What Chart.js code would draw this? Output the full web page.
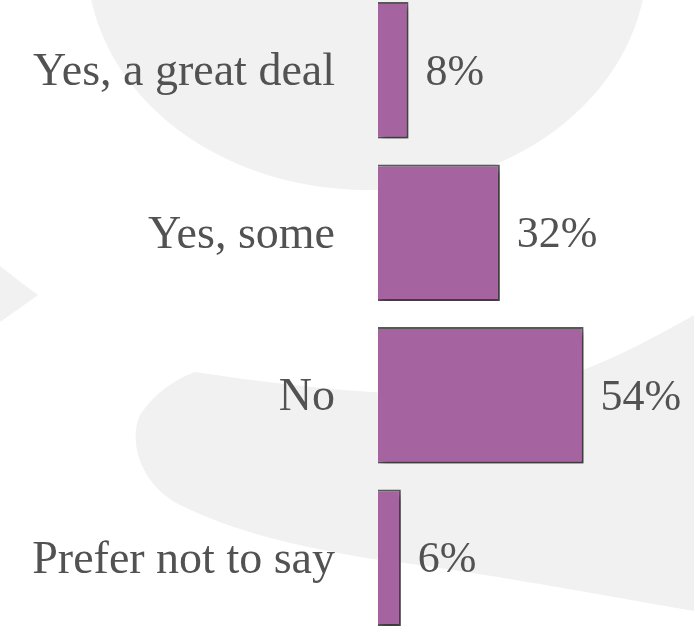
<!DOCTYPE html>
<html>
<head>
<meta charset="utf-8">
<script src="https://cdn.jsdelivr.net/npm/chart.js@4.4.1/dist/chart.umd.min.js"></script>
<style>
  html, body { margin: 0; padding: 0; background: #ffffff; overflow: hidden; }
  body { width: 694px; height: 627px; position: relative; }
  #wrap { position: absolute; left: 0; top: -11px; width: 694px; height: 650px; }
</style>
</head>
<body>
<div id="wrap"><canvas id="c"></canvas></div>
<script>
// ---- data ----
const categories = ["Yes, a great deal", "Yes, some", "No", "Prefer not to say"];
const values = [8, 32, 54, 6];
const valueSuffix = "%";
const xMax = 83;

const TEXT = "#525252";
const BAR = "#a5639f";
const BAR_BORDER = "#5a5a5a";
const BG_SHAPE = "#f1f1f1";
const TOP_OFFSET = 11;

const backgroundPlugin = {
  id: "bgShapes",
  beforeDraw(chart) {
    const ctx = chart.ctx;
    ctx.save();
    ctx.fillStyle = "#ffffff";
    ctx.fillRect(0, 0, chart.width, chart.height);
    ctx.translate(0, TOP_OFFSET);
    ctx.fillStyle = BG_SHAPE;
    // top ellipse
    ctx.beginPath();
    ctx.ellipse(367, -40, 280, 230, 0, 0, Math.PI * 2);
    ctx.fill();
    // left wedge
    ctx.beginPath();
    ctx.moveTo(0, 266);
    ctx.quadraticCurveTo(20, 282, 38, 295);
    ctx.quadraticCurveTo(20, 308, 0, 322);
    ctx.closePath();
    ctx.fill();
    // bottom band
    ctx.beginPath();
    ctx.moveTo(195, 372);
    ctx.bezierCurveTo(300, 388, 420, 400, 500, 392);
    ctx.bezierCurveTo(580, 380, 640, 345, 700, 312);
    ctx.lineTo(700, 612);
    ctx.bezierCurveTo(600, 595, 480, 572, 380, 560);
    ctx.bezierCurveTo(300, 548, 230, 530, 180, 505);
    ctx.bezierCurveTo(140, 485, 128, 440, 140, 415);
    ctx.quadraticCurveTo(160, 385, 195, 372);
    ctx.closePath();
    ctx.fill();
    ctx.restore();
  }
};

const shadowPlugin = {
  id: "barShadow",
  beforeDatasetsDraw(chart) {
    const ctx = chart.ctx;
    ctx.save();
    ctx.shadowColor = "rgba(0,0,0,0.38)";
    ctx.shadowBlur = 6;
    ctx.shadowOffsetX = 3;
    ctx.shadowOffsetY = 4;
  },
  afterDatasetsDraw(chart) {
    chart.ctx.restore();
  }
};

const valueLabelPlugin = {
  id: "valueLabels",
  afterDatasetsDraw(chart) {
    const ctx = chart.ctx;
    const meta = chart.getDatasetMeta(0);
    ctx.save();
    ctx.font = "44px 'Liberation Serif', serif";
    ctx.fillStyle = TEXT;
    ctx.textAlign = "left";
    ctx.textBaseline = "middle";
    meta.data.forEach((bar, i) => {
      ctx.fillText(values[i] + valueSuffix, bar.x + 17, bar.y + 3);
    });
    ctx.restore();
  }
};

new Chart(document.getElementById("c"), {
  type: "bar",
  data: {
    labels: categories,
    datasets: [{
      data: values,
      backgroundColor: BAR,
      borderColor: BAR_BORDER,
      borderWidth: 2,
      barPercentage: 0.84,
      categoryPercentage: 1.0
    }]
  },
  options: {
    indexAxis: "y",
    responsive: true,
    maintainAspectRatio: false,
    animation: false,
    layout: { padding: 0 },
    plugins: { legend: { display: false }, tooltip: { enabled: false } },
    scales: {
      x: {
        display: false,
        min: 0,
        max: xMax
      },
      y: {
        grid: { display: false, drawTicks: false },
        border: { display: false },
        ticks: {
          color: TEXT,
          padding: 43,
          labelOffset: 3,
          font: { family: "'Liberation Serif', serif", size: 46 }
        },
        afterFit(scale) {
          scale.width = 378;
          scale.paddingTop = 0;
          scale.paddingBottom = 0;
        }
      }
    }
  },
  plugins: [backgroundPlugin, shadowPlugin, valueLabelPlugin]
});
</script>
</body>
</html>
